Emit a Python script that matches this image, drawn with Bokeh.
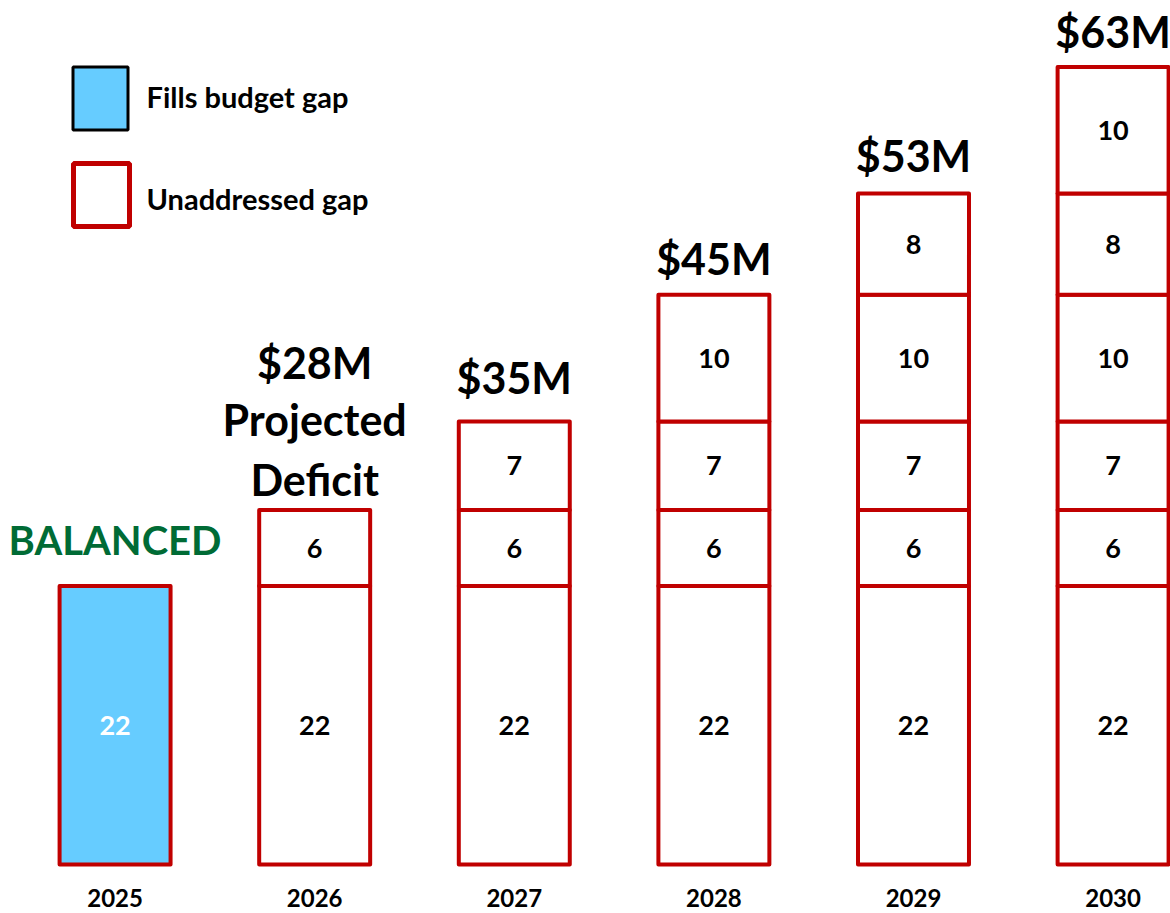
from bokeh.plotting import figure
from bokeh.models import ColumnDataSource, Range1d
from bokeh.core.properties import value
from bokeh.embed import file_html
from bokeh.resources import INLINE

# ---------------- data ----------------
years = ["2025", "2026", "2027", "2028", "2029", "2030"]
# stacked gap segments ($M), bottom layer first
layer_1 = [22, 22, 22, 22, 22, 22]
layer_2 = [0, 6, 6, 6, 6, 6]
layer_3 = [0, 0, 7, 7, 7, 7]
layer_4 = [0, 0, 0, 10, 10, 10]
layer_5 = [0, 0, 0, 0, 8, 8]
layer_6 = [0, 0, 0, 0, 0, 10]
layers = [layer_1, layer_2, layer_3, layer_4, layer_5, layer_6]
# whether the year's gap is filled (balanced budget)
filled = [True, False, False, False, False, False]
legend_labels = ["Fills budget gap", "Unaddressed gap"]

# ---------------- style ----------------
BLUE = "#66CCFF"
RED = "#C00000"
GREEN = "#006B35"
FONT = value("Lato")
# pixel offsets of the label above each bar top (layout only)
top_label_offset = [-46, -148, -44, -36, -38, -35]

W, H = 1170, 913
X0, X1 = -0.574, 5.2876
Y0, Y1 = -3.87, 68.25


def px_x(px):
    return X0 + px * (X1 - X0) / W


def px_y(py):
    return Y1 - py * (Y1 - Y0) / H


# ---------------- build segments ----------------
seg = dict(x=[], bottom=[], top=[], mid=[], fill=[], label=[], tcolor=[])
totals = []
for i, yr in enumerate(years):
    cum = 0
    for layer in layers:
        v = layer[i]
        if v <= 0:
            continue
        seg["x"].append(i)
        seg["bottom"].append(cum)
        seg["top"].append(cum + v)
        seg["mid"].append(cum + v / 2)
        seg["fill"].append(BLUE if filled[i] else "white")
        seg["label"].append(str(v))
        seg["tcolor"].append("white" if filled[i] else "black")
        cum += v
    totals.append(cum)

p = figure(width=W, height=H, output_backend="svg", toolbar_location=None,
           x_axis_type=None, y_axis_type=None,
           x_range=Range1d(X0, X1), y_range=Range1d(Y0, Y1),
           min_border=0, min_border_left=0, min_border_right=0,
           min_border_top=0, min_border_bottom=0)
p.grid.visible = False
p.outline_line_color = None
p.background_fill_color = "white"
p.border_fill_color = "white"

src = ColumnDataSource(seg)
p.vbar(x="x", bottom="bottom", top="top", width=0.556, fill_color="fill",
       line_color=RED, line_width=4, line_join="round", source=src)
p.text(x="x", y="mid", text="label", text_color="tcolor", source=src,
       text_align="center", text_baseline="middle", text_font=FONT,
       text_font_style="bold", text_font_size="27px")

# year labels
p.text(x=list(range(len(years))), y=[0] * len(years), text=years,
       y_offset=33, text_align="center", text_baseline="middle",
       text_font=FONT, text_font_style="bold",
       text_font_size="24px", text_color="black")

# top labels
tot = dict(x=[], y=[], text=[], off=[])
first_deficit = None
for i, t in enumerate(totals):
    if filled[i]:
        continue
    if first_deficit is None:
        first_deficit = i
        continue
    tot["x"].append(i)
    tot["y"].append(t)
    tot["text"].append(f"${t}M")
    tot["off"].append(top_label_offset[i])

for x, y, t, off in zip(tot["x"], tot["y"], tot["text"], tot["off"]):
    p.text(x=[x], y=[y], text=[t], y_offset=off, text_align="center",
           text_baseline="middle", text_font=FONT, text_font_style="bold",
           text_font_size="43px", text_color="black")

# first deficit year: multi-line label
fd_total = totals[first_deficit]
base_off = top_label_offset[first_deficit]
for txt, off in [(f"${fd_total}M", base_off), ("Projected", base_off + 57),
                 ("Deficit", base_off + 117)]:
    p.text(x=[first_deficit], y=[fd_total], text=[txt], y_offset=off,
           text_align="center", text_baseline="middle", text_font=FONT,
           text_font_style="bold", text_font_size="43px", text_color="black")

# balanced label
for i in range(len(years)):
    if filled[i]:
        p.text(x=[i], y=[totals[i]], text=["BALANCED"],
               y_offset=top_label_offset[i], text_align="center",
               text_baseline="middle", text_font=FONT,
               text_font_style="bold", text_font_size="40px", text_color=GREEN)

# legend (drawn manually)
p.rect(x=[px_x(100)], y=[px_y(98)], width=55, height=63,
       width_units="screen", height_units="screen",
       fill_color=BLUE, line_color="black", line_width=3)
p.rect(x=[px_x(101)], y=[px_y(194.5)], width=56, height=63,
       width_units="screen", height_units="screen",
       fill_color="white", line_color=RED, line_width=5)
p.text(x=[px_x(146), px_x(146)], y=[px_y(96), px_y(198)], text=legend_labels,
       text_align="left", text_baseline="middle", text_font=FONT,
       text_font_style="bold", text_font_size="29px", text_color="black")

open("out.html", "w").write(file_html(p, INLINE))
